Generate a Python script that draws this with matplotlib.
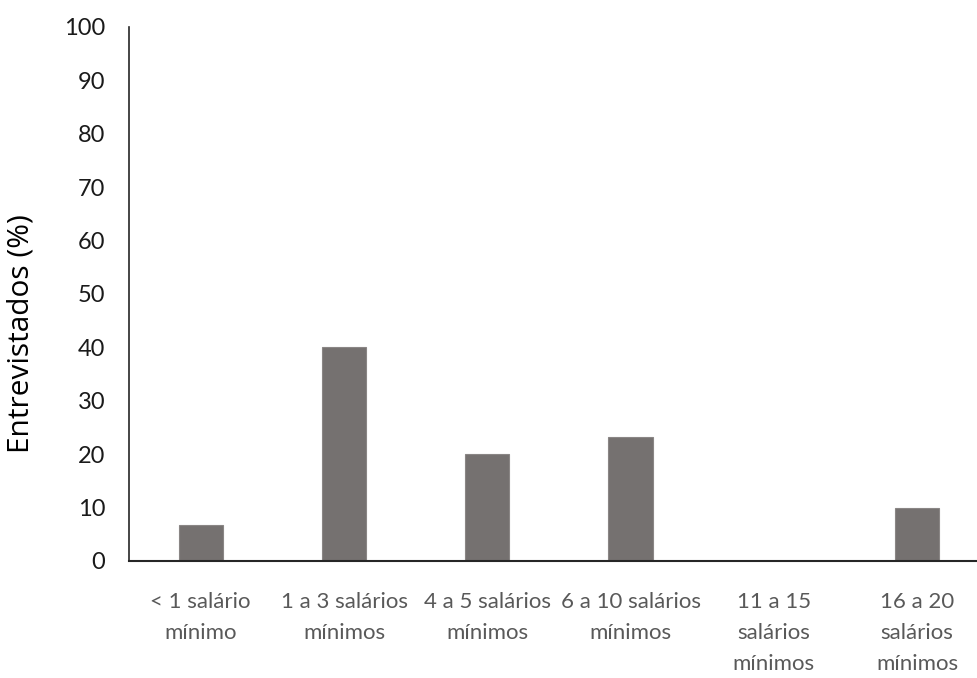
import matplotlib.pyplot as plt

# Faixas de renda e percentual de entrevistados
faixas = ['< 1 salário\nmínimo', '1 a 3 salários\nmínimos', '4 a 5 salários\nmínimos',
          '6 a 10 salários\nmínimos', '11 a 15\nsalários\nmínimos', '16 a 20\nsalários\nmínimos']
percentuais = [6.7, 40.0, 20.0, 23.3, 0.0, 10.0]
yticks = list(range(0, 101, 10))

fonte = 'Lato'

fig = plt.figure(figsize=(9.78, 6.78), dpi=100)
# o eixo passa um pouco da borda direita da figura
ax = fig.add_axes([0.132, 0.1726, 0.879, 0.7876])

ax.bar(range(len(faixas)), percentuais, width=0.31, color='#757170',
       edgecolor='#8a8685', linewidth=0.8, zorder=2)

ax.set_xlim(-0.5, len(faixas) - 0.5)
ax.set_ylim(0, 100)
ax.set_yticks(yticks)
ax.set_yticklabels([str(v) for v in yticks], fontsize=17, family=fonte, color='#1a1a1a')
ax.set_xticks(range(len(faixas)))
ax.set_xticklabels(faixas, fontsize=16, family=fonte, color='#595959', linespacing=1.7)
ax.tick_params(axis='both', length=0)
ax.tick_params(axis='x', pad=22)
ax.tick_params(axis='y', pad=17)

for lado in ['top', 'right']:
    ax.spines[lado].set_visible(False)
ax.spines['left'].set_color('#262626')
ax.spines['bottom'].set_color('#262626')
ax.spines['left'].set_linewidth(1.2)
ax.spines['bottom'].set_linewidth(1.5)

ax.set_ylabel('Entrevistados (%)', fontsize=21.5, family='Open Sans')
ax.yaxis.set_label_coords(-0.109, 0.425)

fig.savefig('out.png', dpi=100)
